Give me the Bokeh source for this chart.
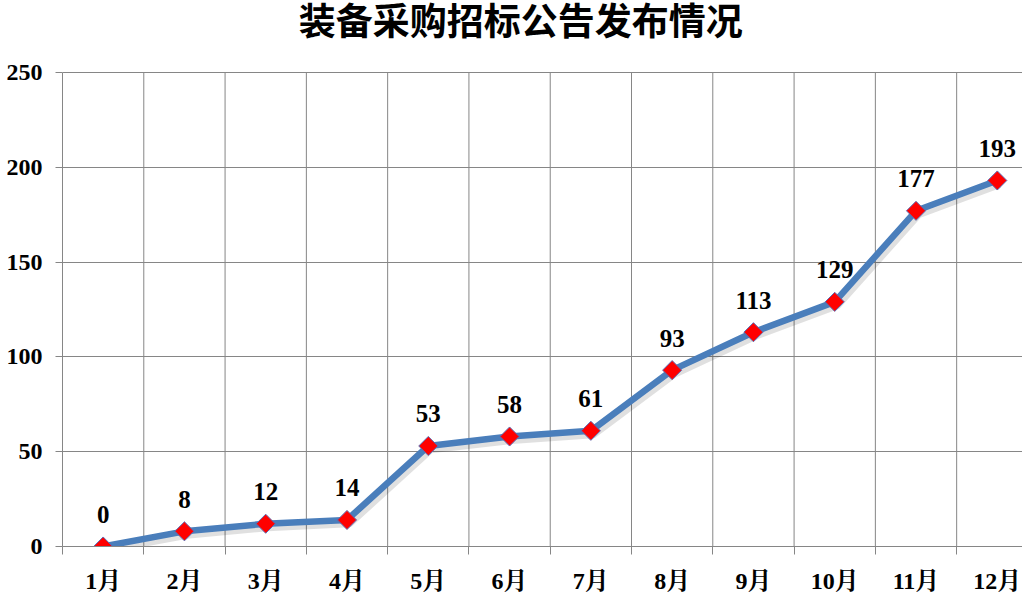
import math
from bokeh.plotting import figure
from bokeh.models import ColumnDataSource, FixedTicker, Range1d, Label
from bokeh.transform import dodge
from bokeh.core.properties import value
from bokeh.embed import file_html
from bokeh.resources import INLINE

title_text = "装备采购招标公告发布情况"
months = ["1月", "2月", "3月", "4月", "5月", "6月", "7月", "8月", "9月", "10月", "11月", "12月"]
counts = [0, 8, 12, 14, 53, 58, 61, 93, 113, 129, 177, 193]
y_ticks = [0, 50, 100, 150, 200, 250]

xs = list(range(1, len(months) + 1))
src = ColumnDataSource(dict(x=xs, y=counts, label=[str(v) for v in counts]))
seps = [x + 0.5 for x in xs[:-1]]
sep_src = ColumnDataSource(dict(x=seps, y0=[y_ticks[0]] * len(seps), y1=[y_ticks[-1]] * len(seps)))

SERIF = "'Liberation Serif', 'Noto Serif CJK SC', 'Noto Sans CJK SC'"
GRID = "#868686"

# frame extends to the top of the canvas so the title can sit inside it
p = figure(width=1022, height=596, output_backend="svg", toolbar_location=None,
           x_range=Range1d(0.5, 12.31), y_range=Range1d(0, 287.9),
           min_border_left=62, min_border_right=0, min_border_top=0, min_border_bottom=49)
p.background_fill_color = "white"
p.border_fill_color = "white"
p.outline_line_color = None

p.add_layout(Label(x=6.136, y=277.9, text=title_text, text_align="center", text_baseline="middle",
                   text_font="Noto Sans CJK SC", text_font_size="37px", text_font_style="bold",
                   text_color="black"))

# x axis: labels at categories, ticks between categories
p.xaxis.ticker = FixedTicker(ticks=xs, minor_ticks=[x - 0.5 for x in xs])
p.xaxis.major_label_overrides = {x: m for x, m in zip(xs, months)}
p.xaxis.major_tick_out = 0
p.xaxis.major_tick_in = 0
p.xaxis.minor_tick_out = 8
p.xaxis.minor_tick_in = 0
p.xaxis.minor_tick_line_color = GRID
p.xaxis.axis_line_color = GRID
p.xaxis.major_label_text_font = SERIF
p.xaxis.major_label_text_font_style = "bold"
p.xaxis.major_label_text_font_size = "24px"
p.xaxis.major_label_text_color = "black"
p.xaxis.major_label_standoff = 13
p.xgrid.grid_line_color = None

# vertical separators between months (limited to the value range)
p.segment(x0="x", y0="y0", x1="x", y1="y1", source=sep_src, line_color=GRID, line_width=1,
          level="underlay")

p.yaxis.ticker = FixedTicker(ticks=y_ticks)
p.yaxis.bounds = (y_ticks[0], y_ticks[-1])
p.yaxis.minor_tick_line_color = None
p.yaxis.major_tick_out = 7
p.yaxis.major_tick_in = 0
p.yaxis.major_tick_line_color = GRID
p.yaxis.axis_line_color = GRID
p.yaxis.major_label_text_font = SERIF
p.yaxis.major_label_text_font_style = "bold"
p.yaxis.major_label_text_font_size = "24px"
p.yaxis.major_label_text_color = "black"
p.yaxis.major_label_standoff = 13
p.ygrid.grid_line_color = GRID
p.ygrid.grid_line_width = 1

# soft shadow of the line
p.line(x=dodge("x", 0.03, range=p.x_range), y=dodge("y", -1.8, range=p.y_range), source=src,
       line_width=8, line_color="black", line_alpha=0.12, line_join="round")
p.line("x", "y", source=src, line_width=6.5, line_color="#4A7EBB", line_join="round")
p.scatter("x", "y", source=src, marker="square", size=13.5, angle=math.pi / 4,
          fill_color="#FF0000", line_color="#5B6DB5", line_width=1)
p.text("x", "y", text="label", source=src, y_offset=-32,
       text_align="center", text_baseline="middle",
       text_font=value("Liberation Serif"), text_font_style="bold",
       text_font_size="25px", text_color="black")

open("out.html", "w").write(file_html(p, INLINE))
